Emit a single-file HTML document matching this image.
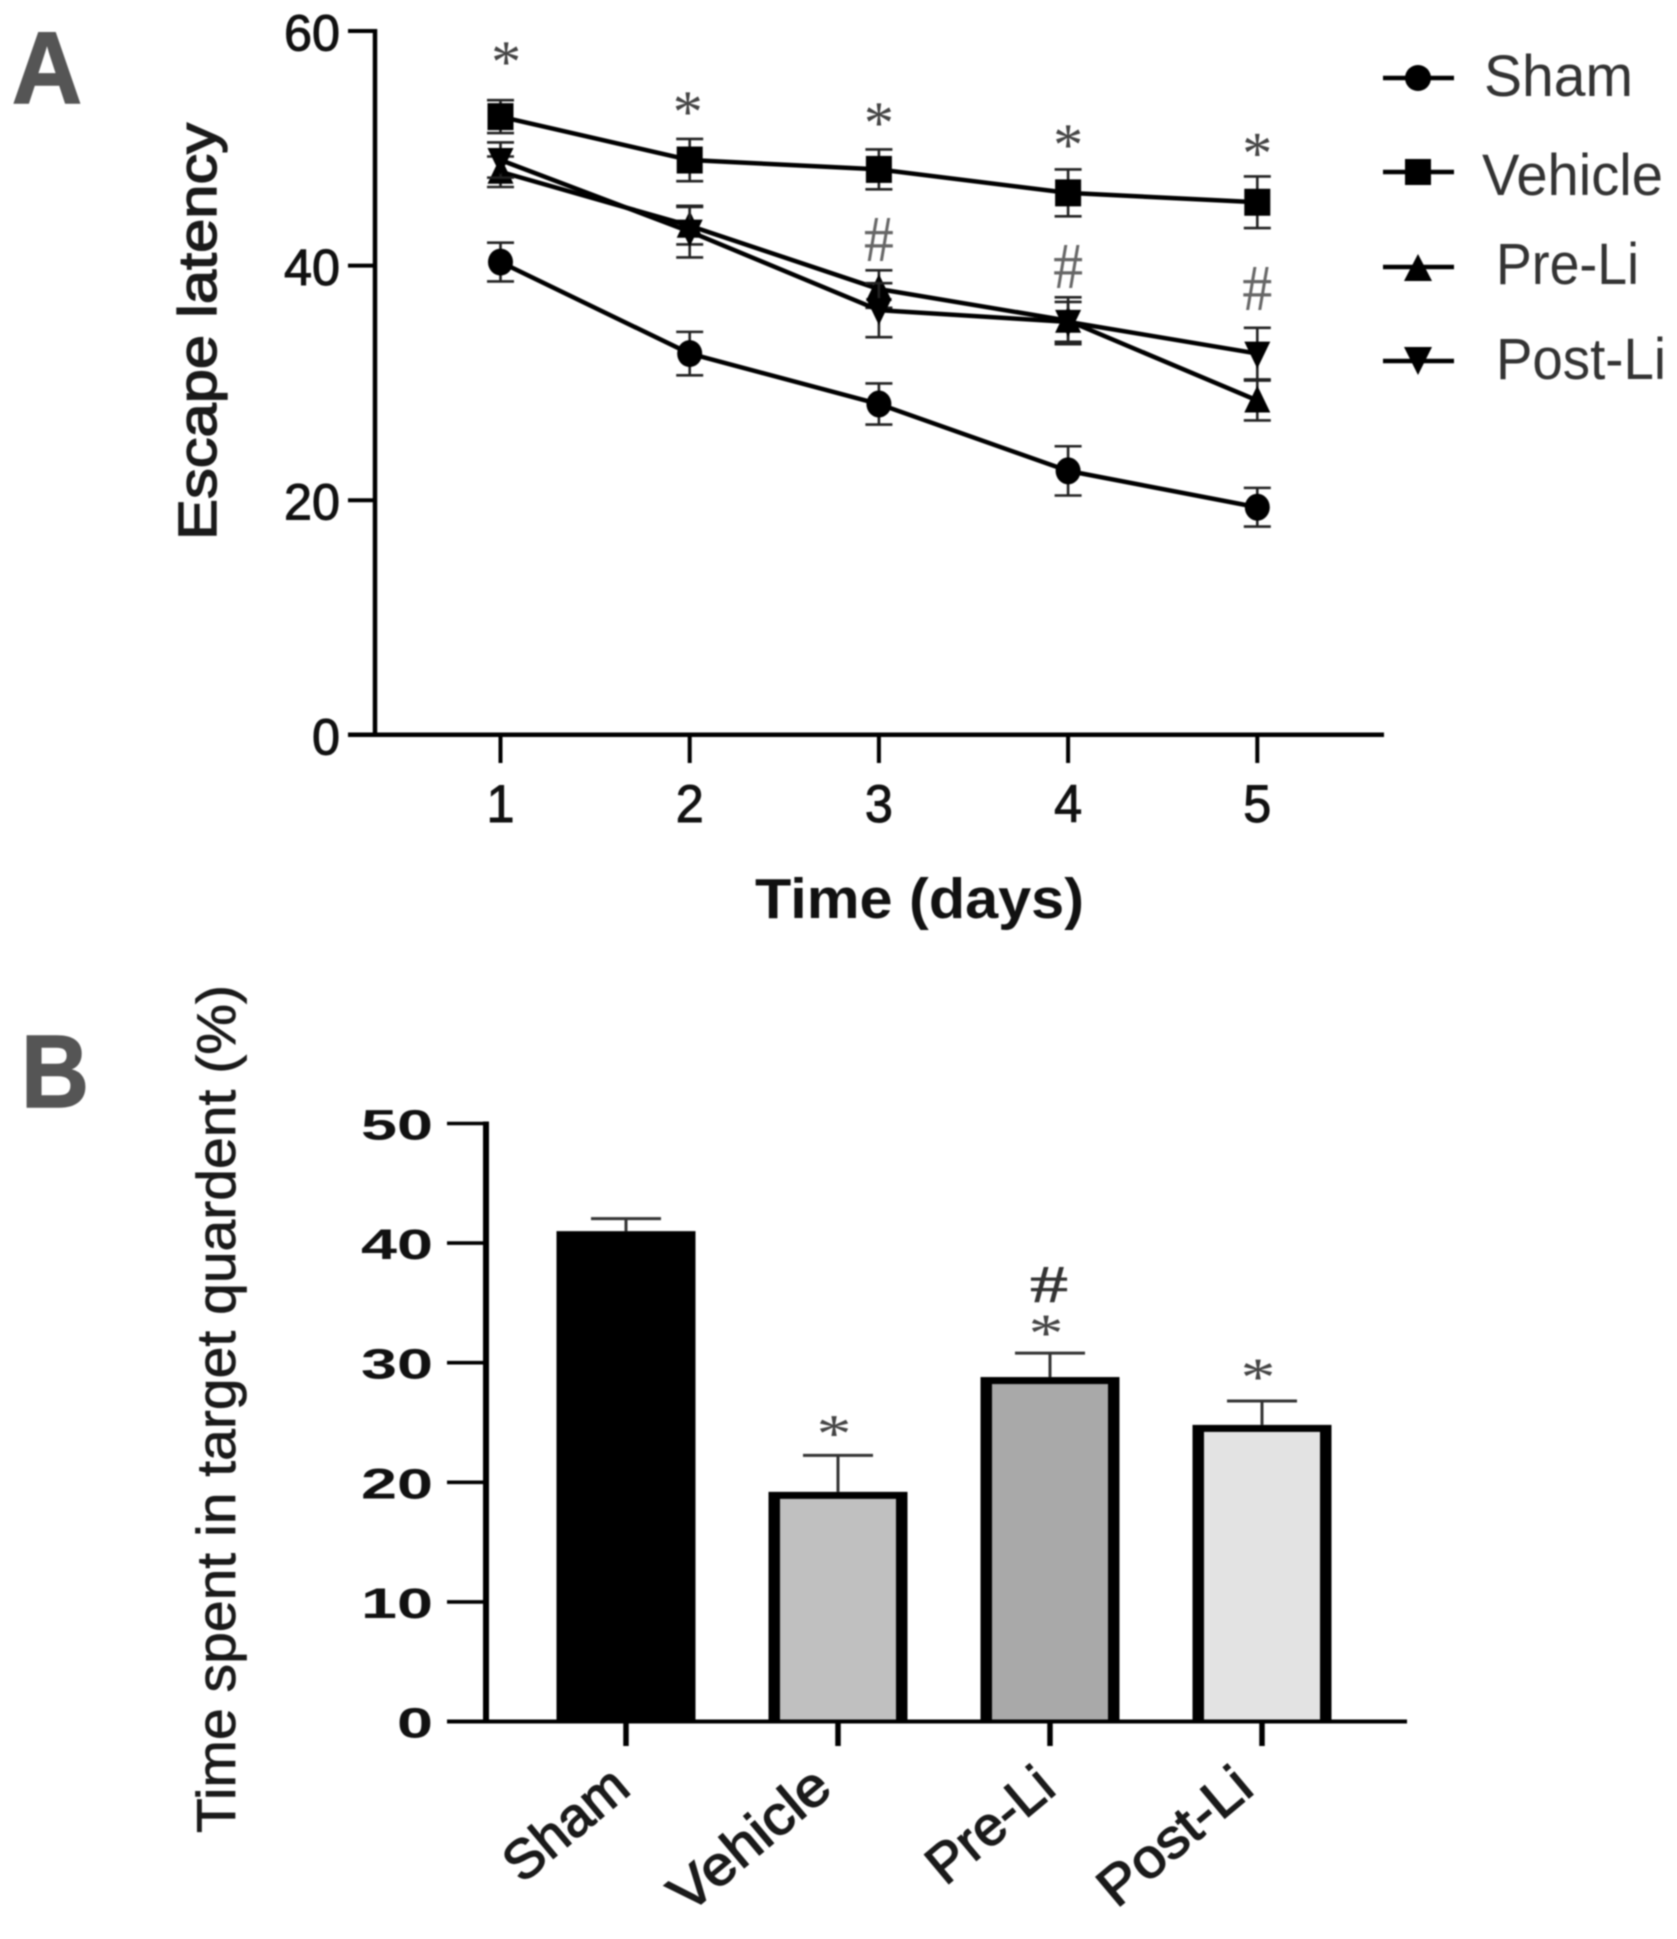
<!DOCTYPE html>
<html lang="en">
<head>
<meta charset="utf-8">
<title>Escape latency and target quadrant time</title>
<style>
html,body{margin:0;padding:0;background:#fff;}
svg{display:block;filter:blur(0.7px);}
text{font-family:"Liberation Sans",Arial,sans-serif;}
</style>
</head>
<body>
<svg id="figure" xmlns="http://www.w3.org/2000/svg" width="1677" height="1939" viewBox="0 0 1677 1939">
  <rect width="1677" height="1939" fill="#fff"/>

  <text x="12" y="103" font-size="102" font-weight="bold" fill="#555" stroke="#555" stroke-width="1.5" textLength="70" lengthAdjust="spacingAndGlyphs">A</text>
  <text x="21" y="1107" font-size="103" font-weight="bold" fill="#555" stroke="#555" stroke-width="1.5" textLength="68" lengthAdjust="spacingAndGlyphs">B</text>

  <g id="chartA"></g>
  <text transform="translate(216,540) rotate(-90)" font-size="54" fill="#1a1a1a" stroke="#1a1a1a" stroke-width="1.4" textLength="417" lengthAdjust="spacingAndGlyphs">Escape latency</text>
  <text x="755" y="918" font-size="57" font-weight="bold" fill="#111" textLength="329" lengthAdjust="spacingAndGlyphs">Time (days)</text>

  <g>
    <g>
      <line x1="1383" x2="1454" y1="78" y2="78" stroke="#000" stroke-width="4.5"/>
      <circle cx="1418" cy="78" r="13" fill="#000"/>
      <text x="1484" y="96" font-size="58" fill="#333" textLength="149" lengthAdjust="spacingAndGlyphs">Sham</text>
    </g>
    <g>
      <line x1="1383" x2="1454" y1="172" y2="172" stroke="#000" stroke-width="4.5"/>
      <rect x="1405" y="159" width="26" height="26" fill="#000"/>
      <text x="1482" y="195" font-size="58" fill="#333" textLength="181" lengthAdjust="spacingAndGlyphs">Vehicle</text>
    </g>
    <g>
      <line x1="1383" x2="1454" y1="267" y2="267" stroke="#000" stroke-width="4.5"/>
      <polygon points="1418,254 1432,281 1404,281" fill="#000"/>
      <text x="1496" y="284" font-size="58" fill="#333" textLength="143" lengthAdjust="spacingAndGlyphs">Pre-Li</text>
    </g>
    <g>
      <line x1="1383" x2="1454" y1="361" y2="361" stroke="#000" stroke-width="4.5"/>
      <polygon points="1404,347 1432,347 1418,375" fill="#000"/>
      <text x="1496" y="379" font-size="58" fill="#333" textLength="170" lengthAdjust="spacingAndGlyphs">Post-Li</text>
    </g>
  </g>

  <g id="chartB"></g>
  <text transform="translate(235,1833) rotate(-90)" font-size="55" fill="#1a1a1a" stroke="#1a1a1a" stroke-width="0.7" textLength="848" lengthAdjust="spacingAndGlyphs">Time spent in target quardent (%)</text>
</svg>

<script>
/* ---------- Panel A data ---------- */
const days = [1, 2, 3, 4, 5];
const latencyTicks = [0, 20, 40, 60];
const shamValues = [40.3, 32.5, 28.2, 22.5, 19.4];
const shamErrors = [1.65, 1.85, 1.75, 2.1, 1.65];
const vehicleValues = [52.7, 49.0, 48.2, 46.2, 45.4];
const vehicleErrors = [1.4, 1.8, 1.7, 2.0, 2.2];
const preValues = [48.0, 43.4, 38.0, 35.3, 28.5];
const preErrors = [1.3, 1.6, 1.6, 2.0, 1.7];
const postValues = [49.0, 42.9, 36.2, 35.2, 32.5];
const postErrors = [1.5, 2.2, 2.3, 1.7, 2.2];
const starDays = [1.03, 1.99, 3, 4, 5];
const starLevels = [57.8, 53.5, 52.6, 50.7, 50.0];
const hashDays = [3, 4, 5];
const hashLevels = [42.2, 39.9, 38.0];

/* ---------- Panel B data ---------- */
const groups = ['Sham', 'Vehicle', 'Pre-Li', 'Post-Li'];
const timeTicks = [0, 10, 20, 30, 40, 50];
const timeValues = [41.0, 19.2, 28.8, 24.8];
const timeErrors = [1.05, 3.05, 2.0, 2.0];
const barFills = ['#000000', '#c0c0c0', '#a9a9a9', '#e3e3e3'];
const barStarLevels = [null, 24.6, 33.0, 29.3];

const NS = 'http://www.w3.org/2000/svg';
function make(parent, tag, attrs, content) {
  const node = document.createElementNS(NS, tag);
  for (const key in attrs) node.setAttribute(key, attrs[key]);
  if (content !== undefined) node.textContent = content;
  parent.appendChild(node);
  return node;
}

/* axis functions */
const xA = d => 500.5 + 189.2 * (d - 1);
const yA = v => 734.8 - 11.73 * v;
const xB = i => 626 + 212 * i;
const yB = v => 1721.5 - 11.96 * v;

/* ---------- Panel A ---------- */
const chartA = document.getElementById('chartA');

latencyTicks.forEach(t => {
  const tick = make(chartA, 'line', {x1: 348, x2: 377, y1: yA(t), y2: yA(t), stroke: '#000', 'stroke-width': 4});
  
  
  const label = make(chartA, 'text', {x: 340, y: yA(t) + 19.5, 'text-anchor': 'end', 'font-size': 51, fill: '#111', stroke: '#111', 'stroke-width': 1, textLength: String(t).length * 28, lengthAdjust: 'spacingAndGlyphs'}, String(t));
  
  
});

const yAxisA = make(chartA, 'line', {x1: 375, x2: 375, y1: yA(60) - 2, y2: yA(0) + 2, stroke: '#000', 'stroke-width': 4.5});


const xAxisA = make(chartA, 'line', {x1: 348, x2: 1384, y1: yA(0), y2: yA(0), stroke: '#000', 'stroke-width': 4.5});



days.forEach(d => {
  const tick = make(chartA, 'line', {x1: xA(d), x2: xA(d), y1: yA(0), y2: 763, stroke: '#000', 'stroke-width': 4});
  
  
  const label = make(chartA, 'text', {x: xA(d), y: 822, 'text-anchor': 'middle', 'font-size': 53, fill: '#111', stroke: '#111', 'stroke-width': 1, textLength: 28, lengthAdjust: 'spacingAndGlyphs'}, String(d));
  
  
});

function drawMarker(parent, kind, cx, cy) {
  if (kind === 'circle') return make(parent, 'ellipse', {cx: cx, cy: cy, rx: 12.5, ry: 13.5, fill: '#000'});
  if (kind === 'square') return make(parent, 'rect', {x: cx - 13, y: cy - 13.5, width: 26, height: 27, fill: '#000'});
  if (kind === 'up') return make(parent, 'polygon', {points: `${cx},${cy - 15} ${cx + 13},${cy + 12} ${cx - 13},${cy + 12}`, fill: '#000'});
  return make(parent, 'polygon', {points: `${cx - 13},${cy - 12} ${cx + 13},${cy - 12} ${cx},${cy + 15}`, fill: '#000'});
}

function drawSeries(name, kind, values, errors) {
  const group = make(chartA, 'g', {});
  
  
  values.forEach((v, i) => {
    const x = xA(days[i]);
    const hi = yA(v + errors[i]);
    const lo = yA(v - errors[i]);
    const bar = make(group, 'path', {d: `M${x - 13.5} ${hi}H${x + 13.5}M${x} ${hi}V${lo}M${x - 13.5} ${lo}H${x + 13.5}`, fill: 'none', stroke: '#222', 'stroke-width': 2.6});
    
    
  });
  const points = values.map((v, i) => xA(days[i]) + ',' + yA(v)).join(' ');
  const line = make(group, 'polyline', {points: points, fill: 'none', stroke: '#000', 'stroke-width': 4.5, 'stroke-linejoin': 'round'});
  
  
  values.forEach((v, i) => {
    const mark = drawMarker(group, kind, xA(days[i]), yA(v));
    
    
  });
}
drawSeries('sham', 'circle', shamValues, shamErrors);
drawSeries('vehicle', 'square', vehicleValues, vehicleErrors);
drawSeries('pre-li', 'up', preValues, preErrors);
drawSeries('post-li', 'down', postValues, postErrors);

starDays.forEach((d, i) => {
  const star = make(chartA, 'text', {x: xA(d), y: yA(starLevels[i]) + 25, 'text-anchor': 'middle', 'font-size': 60, fill: '#444', style: 'font-family:"Liberation Serif",serif'}, '*');
  
  
});
hashDays.forEach((d, i) => {
  const hash = make(chartA, 'text', {x: xA(d), y: yA(hashLevels[i]) + 21, 'text-anchor': 'middle', 'font-size': 66, fill: '#666', textLength: 30, lengthAdjust: 'spacingAndGlyphs', style: 'font-family:"Liberation Serif",serif'}, '#');
  
  
});

/* ---------- Panel B ---------- */
const chartB = document.getElementById('chartB');

timeTicks.forEach(t => {
  const tick = make(chartB, 'line', {x1: 447, x2: 488, y1: yB(t), y2: yB(t), stroke: '#000', 'stroke-width': 3.6});
  
  
  const label = make(chartB, 'text', {x: 433, y: yB(t) + 16, 'text-anchor': 'end', 'font-size': 43, 'font-weight': 'bold', fill: '#111', textLength: String(t).length * 36, lengthAdjust: 'spacingAndGlyphs'}, String(t));
  
  
});

const yAxisB = make(chartB, 'line', {x1: 486, x2: 486, y1: yB(50) - 2, y2: yB(0) + 2, stroke: '#000', 'stroke-width': 6});



const labelNudge = { 'Sham': 6.5, 'Vehicle': -3.5, 'Pre-Li': 8, 'Post-Li': -6 };
const labelLength = { 'Sham': 144, 'Vehicle': 191, 'Pre-Li': 147, 'Post-Li': 182 };
groups.forEach((g, i) => {
  const cx = xB(i);
  const hi = yB(timeValues[i] + timeErrors[i]);
  const err = make(chartB, 'path', {d: `M${cx - 35} ${hi}H${cx + 35}M${cx} ${hi}V${yB(timeValues[i])}`, fill: 'none', stroke: '#333', 'stroke-width': 3});
  
  

  const bar = make(chartB, 'rect', {x: cx - 69.5, y: yB(timeValues[i]), width: 139, height: yB(0) - yB(timeValues[i]), fill: '#000'});
  
  
  if (i > 0) {
    const inner = make(chartB, 'rect', {x: cx - 58, y: yB(timeValues[i]) + 7, width: 116, height: yB(0) - yB(timeValues[i]) - 7, fill: barFills[i]});
    
    
  }

  const tick = make(chartB, 'line', {x1: cx, x2: cx, y1: yB(0), y2: 1746, stroke: '#000', 'stroke-width': 5.5});
  
  

  const label = make(chartB, 'text', {transform: `translate(${cx + labelNudge[g]},1792) rotate(-40)`, 'text-anchor': 'end', 'font-size': 55, fill: '#1a1a1a', stroke: '#1a1a1a', 'stroke-width': 1.4, textLength: labelLength[g], lengthAdjust: 'spacingAndGlyphs'}, g);
  
  

  if (barStarLevels[i] !== null) {
    const star = make(chartB, 'text', {x: cx - 4, y: yB(barStarLevels[i]) + 24, 'text-anchor': 'middle', 'font-size': 54, fill: '#444', textLength: 35, lengthAdjust: 'spacingAndGlyphs', style: 'font-family:"Liberation Serif",serif'}, '*');
    
    
  }
});

const xAxisB = make(chartB, 'line', {x1: 447, x2: 1407, y1: yB(0), y2: yB(0), stroke: '#000', 'stroke-width': 4});



const barHash = make(chartB, 'text', {x: xB(2) - 1, y: 1302, 'text-anchor': 'middle', 'font-size': 53, fill: '#333', stroke: '#333', 'stroke-width': 0.6, textLength: 38, lengthAdjust: 'spacingAndGlyphs', style: 'font-family:"Liberation Serif",serif'}, '#');


</script>
</body>
</html>
